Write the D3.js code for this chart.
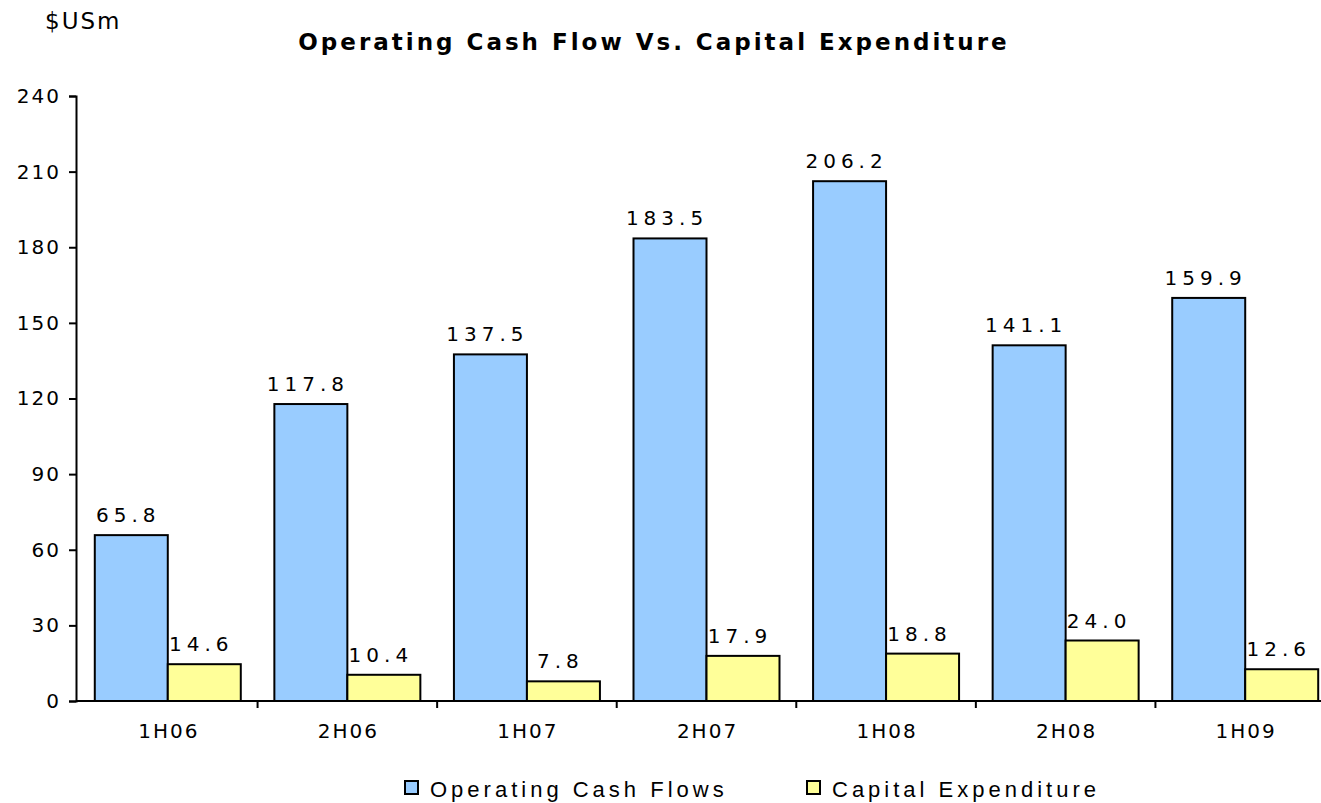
<!DOCTYPE html>
<html>
<head>
<meta charset="utf-8">
<script src="https://cdn.jsdelivr.net/npm/d3@7"></script>
<style>
  body { margin: 0; background: #fff; }
  svg { display: block; }
  text { font-family: "DejaVu Sans", Verdana, sans-serif; fill: #000; }
</style>
</head>
<body>
<script>
// datos
var periodos = ["1H06", "2H06", "1H07", "2H07", "1H08", "2H08", "1H09"]
var flujoOperativo = [65.8, 117.8, 137.5, 183.5, 206.2, 141.1, 159.9]
var inversionCapital = [14.6, 10.4, 7.8, 17.9, 18.8, 24.0, 12.6]
var series = ["Operating Cash Flows", "Capital Expenditure"]
var colores = ["#99ccff", "#ffff99"]
var ticksY = [0, 30, 60, 90, 120, 150, 180, 210, 240]

var width = 1321
var height = 803

var margin = {
    top: 96,
    bottom: 102,
    left: 78,
    right: -14
}

var datos = periodos.map((p, i) => ({
    periodo: p,
    valores: [flujoOperativo[i], inversionCapital[i]]
}))

var svg = d3.select("body")
    .append("svg")
    .attr("width", width)
    .attr("height", height)

var escalaX = d3.scaleBand()
    .domain(periodos)
    .range([margin.left, width - margin.right])
    .paddingInner(0.187)
    .paddingOuter(0.0935)

var escalaSerie = d3.scaleBand()
    .domain([0, 1])
    .range([0, escalaX.bandwidth()])

var escalaY = d3.scaleLinear()
    .domain([0, 240])
    .range([height - margin.bottom, margin.top])

// eje Y
var ejeY = svg.append("g")
    .attr("transform", "translate(" + (margin.left - 2) + ",0)")
    .call(d3.axisLeft(escalaY).tickValues(ticksY).tickSize(7).tickPadding(8))
ejeY.select(".domain").attr("stroke", "#000").attr("stroke-width", 2)
ejeY.selectAll(".tick line").attr("stroke", "#000").attr("stroke-width", 2)
ejeY.selectAll(".tick text")
    .style("font-size", "20px")
    .style("letter-spacing", "2px")
    .style("font-family", "DejaVu Sans, sans-serif")

// grupos de barras
var grupos = svg.selectAll(".grupo")
    .data(datos)
    .enter()
    .append("g")
    .attr("class", "grupo")
    .attr("transform", d => "translate(" + escalaX(d.periodo) + ",0)")

grupos.selectAll("rect")
    .data(d => d.valores)
    .enter()
    .append("rect")
    .attr("x", (v, i) => escalaSerie(i))
    .attr("y", v => escalaY(v))
    .attr("width", escalaSerie.bandwidth())
    .attr("height", v => escalaY(0) - escalaY(v))
    .attr("fill", (v, i) => colores[i])
    .attr("stroke", "#000")
    .attr("stroke-width", 2)

grupos.selectAll(".etiqueta")
    .data(d => d.valores)
    .enter()
    .append("text")
    .attr("class", "etiqueta")
    .attr("x", (v, i) => escalaSerie(i) + escalaSerie.bandwidth() / 2 - 3)
    .attr("y", v => escalaY(v) - 13)
    .attr("text-anchor", "middle")
    .style("font-size", "20px")
    .style("letter-spacing", "5px")
    .text(v => v.toFixed(1))

// eje X
var baseY = escalaY(0)
var paso = escalaX.step()
var hueco = paso * escalaX.paddingInner()
svg.append("line")
    .attr("x1", margin.left - 2).attr("x2", width)
    .attr("y1", baseY).attr("y2", baseY)
    .attr("stroke", "#000").attr("stroke-width", 2)

svg.selectAll(".tickX")
    .data(periodos.slice(1))
    .enter()
    .append("line")
    .attr("class", "tickX")
    .attr("x1", d => escalaX(d) - hueco / 2)
    .attr("x2", d => escalaX(d) - hueco / 2)
    .attr("y1", baseY)
    .attr("y2", baseY + 7)
    .attr("stroke", "#000").attr("stroke-width", 2)

svg.selectAll(".labelX")
    .data(periodos)
    .enter()
    .append("text")
    .attr("class", "labelX")
    .attr("x", d => escalaX(d) + escalaX.bandwidth() / 2 + 1)
    .attr("y", baseY + 37)
    .attr("text-anchor", "middle")
    .style("font-size", "20px")
    .style("letter-spacing", "2px")
    .text(d => d)

// titulo y unidades
svg.append("text")
    .attr("x", 654)
    .attr("y", 50)
    .attr("text-anchor", "middle")
    .style("font-size", "23px")
    .style("font-weight", "bold")
    .style("letter-spacing", "3px")
    .text("Operating Cash Flow Vs. Capital Expenditure")

svg.append("text")
    .attr("x", 45)
    .attr("y", 29)
    .style("font-size", "23px")
    .style("letter-spacing", "2px")
    .text("$USm")

// leyenda
var leyenda = svg.selectAll(".leyenda")
    .data(series)
    .enter()
    .append("g")
    .attr("class", "leyenda")
    .attr("transform", (d, i) => "translate(" + (i == 0 ? 405 : 807) + ",781)")

leyenda.append("rect")
    .attr("width", 13)
    .attr("height", 13)
    .attr("fill", (d, i) => colores[i])
    .attr("stroke", "#000")
    .attr("stroke-width", 2)

leyenda.append("text")
    .attr("x", 25)
    .attr("y", 16)
    .style("font-family", "Liberation Sans, Arial, sans-serif")
    .style("font-size", "22px")
    .style("letter-spacing", "4px")
    .text(d => d)
</script>
</body>
</html>
